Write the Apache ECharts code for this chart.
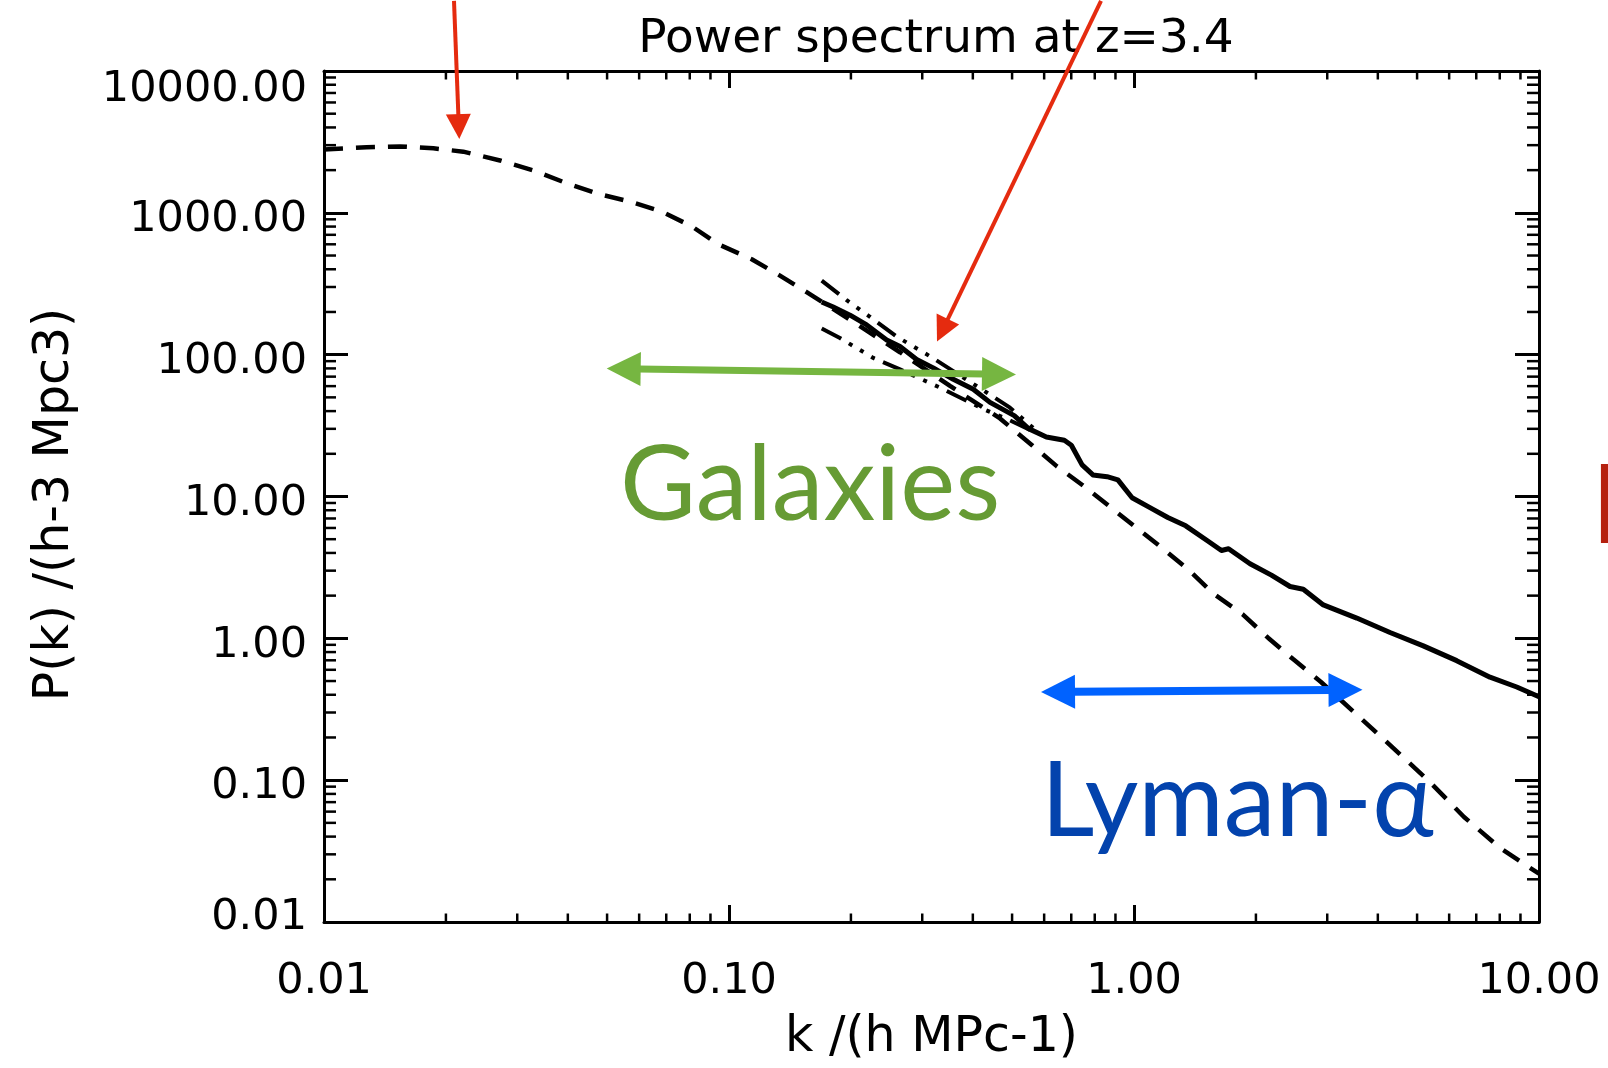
<!DOCTYPE html>
<html>
<head>
<meta charset="utf-8">
<title>Power spectrum at z=3.4</title>
<script src="https://cdn.jsdelivr.net/npm/echarts@6/dist/echarts.min.js"></script>
<style>
  html, body { margin: 0; padding: 0; background: #fff; }
  #chart { width: 1608px; height: 1068px; }
</style>
</head>
<body>
<div id="chart"></div>
<script>
// ---- axis ranges and tick structure ----
const kRange = [0.01, 10];
const pRange = [0.01, 10000];
const kDecades = [0.01, 0.1, 1];
const pDecades = [0.01, 0.1, 1, 10, 100, 1000];
const minorSteps = [2, 3, 4, 5, 6, 7, 8, 9];

// ---- linear-theory spectrum (dashed) ----
const linearK = [0.01, 0.01274, 0.01541, 0.01862, 0.02208, 0.0272, 0.03287, 0.03899, 0.04713, 0.05694,
  0.06822, 0.08088, 0.0941, 0.1138, 0.1336, 0.1555, 0.199, 0.2644, 0.3513, 0.4668,
  0.56, 0.6453, 0.7439, 0.8774, 1.011, 1.166, 1.367, 1.576, 1.858, 2.142,
  2.47, 2.895, 3.553, 4.361, 5.34, 6.529, 8.013, 10];
const linearP = [2800, 2900, 2940, 2850, 2700, 2340, 1990, 1650, 1370, 1200,
  1020, 804, 600, 471, 361, 276, 176, 104, 60.2, 35.5,
  23.0, 16.3, 12.1, 8.35, 6.06, 4.40, 3.02, 2.05, 1.47, 1.01,
  0.714, 0.492, 0.289, 0.169, 0.099, 0.055, 0.0333, 0.0219];

// ---- measured non-linear spectrum (solid) ----
const measuredK = [0.1694, 0.1809, 0.199, 0.2188, 0.2451, 0.2644, 0.2907, 0.3194, 0.3579, 0.401,
  0.441, 0.5062, 0.5491, 0.6076, 0.673, 0.7004, 0.7445, 0.7917, 0.8583, 0.9125,
  0.9892, 1.095, 1.212, 1.342, 1.515, 1.644, 1.712, 1.934, 2.184, 2.428,
  2.618, 2.934, 3.548, 4.287, 5.18, 6.263, 7.568, 8.811, 10];
const measuredP = [235, 217, 190, 162, 127, 114, 92.4, 80.7, 67.0, 57.1,
  46.1, 37.2, 30.1, 26.3, 24.9, 23.0, 16.7, 14.2, 13.8, 13.1,
  9.79, 8.35, 7.11, 6.21, 4.89, 4.16, 4.28, 3.36, 2.79, 2.32,
  2.22, 1.72, 1.39, 1.10, 0.885, 0.696, 0.532, 0.454, 0.387];

// ---- upper and lower model envelopes (dash-dot-dot-dot) ----
const upperK = [0.1694, 0.1953, 0.2229, 0.2595, 0.3135, 0.3579, 0.4327, 0.4941, 0.5696];
const upperP = [333, 242, 185, 134, 97.4, 76.6, 54.1, 42.3, 29.7];
const lowerK = [0.1694, 0.1879, 0.2272, 0.2644, 0.3319, 0.4244, 0.4941, 0.5696];
const lowerP = [153, 131, 94.8, 78.7, 58.6, 41.4, 34.4, 28.4];

// ---- annotations, in data units (k, P) ----
const pointerLeft = { from: [0.02094, 31200], to: [0.02158, 3309] };
const pointerRight = { from: [0.829, 31200], to: [0.3263, 123.8] };
const galaxyRange = { from: [0.04989, 79.95], to: [0.5112, 72.6] };
const lymanRange = { from: [0.5894, 0.4188], to: [3.666, 0.4345] };
const galaxyLabel = { text: 'Galaxies', at: [0.0538, 5.05] };
const lymanLabel = { text: 'Lyman-\u03b1', at: [0.5894, 0.0299] };
const edgeMark = { at: [14.22, 16.97], to: [14.22, 4.71] };

const pair = (xs, ys) => xs.map((x, i) => [x, ys[i]]);
const minorOf = decades => decades.flatMap(d => minorSteps.map(s => +(d * s).toPrecision(3)));

const FONT = 'DejaVu Sans';
const BLACK = '#000';
const AXIS_W = 3;
const MAJOR_X = 17, MINOR_X = 8.5, MAJOR_Y = 24, MINOR_Y = 12;

function fmt(v) { return Number(v).toFixed(2); }

// y labels: the end labels sit inside the frame, the others centred on their tick
function yLabel(v) {
  const s = fmt(v);
  if (Math.abs(v - pRange[0]) < 1e-9) return '{lo|' + s + '}';
  if (Math.abs(v - pRange[1]) < 1e-3) return '{hi|' + s + '}';
  return '{n|' + s + '}';
}

function baseAxis(extra) {
  return Object.assign({
    type: 'log',
    logBase: 10,
    axisLine: { show: true, onZero: false, lineStyle: { color: BLACK, width: AXIS_W } },
    splitLine: { show: false },
    minorTick: { show: false },
    minorSplitLine: { show: false }
  }, extra);
}

const labelStyle = { fontFamily: FONT, fontSize: 43, color: BLACK };
const nameStyle = { fontFamily: FONT, fontSize: 49, color: BLACK };

const option = {
  animation: false,
  backgroundColor: '#fff',
  title: {
    text: 'Power spectrum at z=3.4',
    left: 931,
    top: 11,
    textAlign: 'center',
    textStyle: { fontFamily: FONT, fontSize: 47, fontWeight: 'normal', color: BLACK }
  },
  grid: { left: 324, top: 71, width: 1215, height: 862 },
  xAxis: [
    baseAxis({
      min: kRange[0], max: kRange[1], position: 'bottom',
      axisTick: { inside: true, length: MAJOR_X, lineStyle: { color: BLACK, width: AXIS_W } },
      axisLabel: Object.assign({ formatter: fmt, margin: 38 }, labelStyle),
      name: 'k /(h MPc-1)', nameLocation: 'middle', nameGap: 92, nameTextStyle: nameStyle
    }),
    baseAxis({
      min: kRange[0], max: kRange[1], position: 'top',
      axisTick: { inside: true, length: MAJOR_X, lineStyle: { color: BLACK, width: AXIS_W } },
      axisLabel: { show: false }
    })
  ],
  yAxis: [
    baseAxis({
      min: pRange[0], max: pRange[1], position: 'left',
      axisTick: { inside: true, length: MAJOR_Y, lineStyle: { color: BLACK, width: AXIS_W } },
      axisLabel: Object.assign({
        formatter: yLabel, margin: 17, verticalAlign: 'middle',
        rich: {
          n: Object.assign({ padding: [14, 0, 0, 0] }, labelStyle),
          lo: Object.assign({ padding: [0, 0, 8, 0] }, labelStyle),
          hi: Object.assign({ padding: [38, 0, 0, 0] }, labelStyle)
        }
      }, labelStyle),
      name: 'P(k) /(h-3 Mpc3)', nameLocation: 'middle', nameGap: 244,
      nameTextStyle: Object.assign({ padding: [0, 16, 0, 0] }, nameStyle)
    }),
    baseAxis({
      min: pRange[0], max: pRange[1], position: 'right',
      axisTick: { inside: true, length: MAJOR_Y, lineStyle: { color: BLACK, width: AXIS_W } },
      axisLabel: { show: false }
    })
  ],
  series: [
    {
      name: 'linear', type: 'line', data: pair(linearK, linearP),
      showSymbol: false, symbol: 'none', clip: true,
      lineStyle: { color: BLACK, width: 4.5, type: [19, 13], cap: 'butt' }
    },
    {
      name: 'upper', type: 'line', data: pair(upperK, upperP),
      showSymbol: false, symbol: 'none',
      lineStyle: { color: BLACK, width: 4, type: [22, 9, 4, 9, 4, 9, 4, 9], cap: 'butt' }
    },
    {
      name: 'lower', type: 'line', data: pair(lowerK, lowerP),
      showSymbol: false, symbol: 'none',
      lineStyle: { color: BLACK, width: 4, type: [22, 9, 4, 9, 4, 9, 4, 9], cap: 'butt' }
    },
    {
      name: 'measured', type: 'line', data: pair(measuredK, measuredP),
      showSymbol: false, symbol: 'none',
      lineStyle: { color: BLACK, width: 5, type: 'solid', join: 'round' }
    },
    {
      // minor ticks on bottom and top edges, at 2..9 of each decade
      name: 'kMinor', type: 'custom', silent: true,
      data: minorOf(kDecades).map(k => [k, pRange[0]]),
      renderItem(params, api) {
        const k = api.value(0);
        const b = api.coord([k, pRange[0]]);
        const t = api.coord([k, pRange[1]]);
        const st = { stroke: BLACK, lineWidth: 2.5 };
        return { type: 'group', children: [
          { type: 'line', shape: { x1: b[0], y1: b[1], x2: b[0], y2: b[1] - MINOR_X }, style: st },
          { type: 'line', shape: { x1: t[0], y1: t[1], x2: t[0], y2: t[1] + MINOR_X }, style: st }
        ] };
      }
    },
    {
      // minor ticks on left and right edges
      name: 'pMinor', type: 'custom', silent: true,
      data: minorOf(pDecades).map(p => [kRange[0], p]),
      renderItem(params, api) {
        const p = api.value(1);
        const l = api.coord([kRange[0], p]);
        const r = api.coord([kRange[1], p]);
        const st = { stroke: BLACK, lineWidth: 2.5 };
        return { type: 'group', children: [
          { type: 'line', shape: { x1: l[0], y1: l[1], x2: l[0] + MINOR_Y, y2: l[1] }, style: st },
          { type: 'line', shape: { x1: r[0], y1: r[1], x2: r[0] - MINOR_Y, y2: r[1] }, style: st }
        ] };
      }
    }
  ]
};

const chart = echarts.init(document.getElementById('chart'), null, { renderer: 'canvas' });
chart.setOption(option);

// ---- annotation overlay ----
const toPx = v => chart.convertToPixel({ xAxisIndex: 0, yAxisIndex: 0 }, v);

function arrowParts(a, b, color, width, headLen, headHalf, bothEnds) {
  const dx = b[0] - a[0], dy = b[1] - a[1];
  const len = Math.hypot(dx, dy);
  const ux = dx / len, uy = dy / len, nx = -uy, ny = ux;
  const head = (tip, sx, sy) => {
    const bx = tip[0] - sx * headLen, by = tip[1] - sy * headLen;
    return {
      type: 'polygon', z: 100,
      shape: { points: [tip, [bx + nx * headHalf, by + ny * headHalf], [bx - nx * headHalf, by - ny * headHalf]] },
      style: { fill: color }
    };
  };
  const start = bothEnds ? [a[0] + ux * (headLen - 2), a[1] + uy * (headLen - 2)] : a;
  const end = [b[0] - ux * (headLen - 2), b[1] - uy * (headLen - 2)];
  const parts = [{
    type: 'line', z: 99,
    shape: { x1: start[0], y1: start[1], x2: end[0], y2: end[1] },
    style: { stroke: color, lineWidth: width }
  }, head(b, ux, uy)];
  if (bothEnds) parts.push(head(a, -ux, -uy));
  return parts;
}

function label(item, color) {
  const p = toPx(item.at);
  return {
    type: 'text', z: 100, x: p[0], y: p[1],
    style: { text: item.text, fill: color, font: '104px Lato', align: 'left', verticalAlign: 'bottom' }
  };
}

const RED = '#e52b0f';
const em1 = toPx(edgeMark.at), em2 = toPx(edgeMark.to);
const overlay = [].concat(
  arrowParts(toPx(pointerLeft.from), toPx(pointerLeft.to), RED, 4, 25, 12.5, false),
  arrowParts(toPx(pointerRight.from), toPx(pointerRight.to), RED, 4, 25, 12.5, false),
  arrowParts(toPx(galaxyRange.from), toPx(galaxyRange.to), '#76b641', 7, 34, 17, true),
  arrowParts(toPx(lymanRange.from), toPx(lymanRange.to), '#0062ff', 8, 34, 17, true),
  [label(galaxyLabel, '#669b34'), label(lymanLabel, '#0343ad'),
   { type: 'rect', z: 100, shape: { x: em1[0], y: em1[1], width: 20, height: em2[1] - em1[1] }, style: { fill: '#b5200f' } }]
);
chart.setOption({ graphic: { elements: overlay } });
</script>
</body>
</html>
